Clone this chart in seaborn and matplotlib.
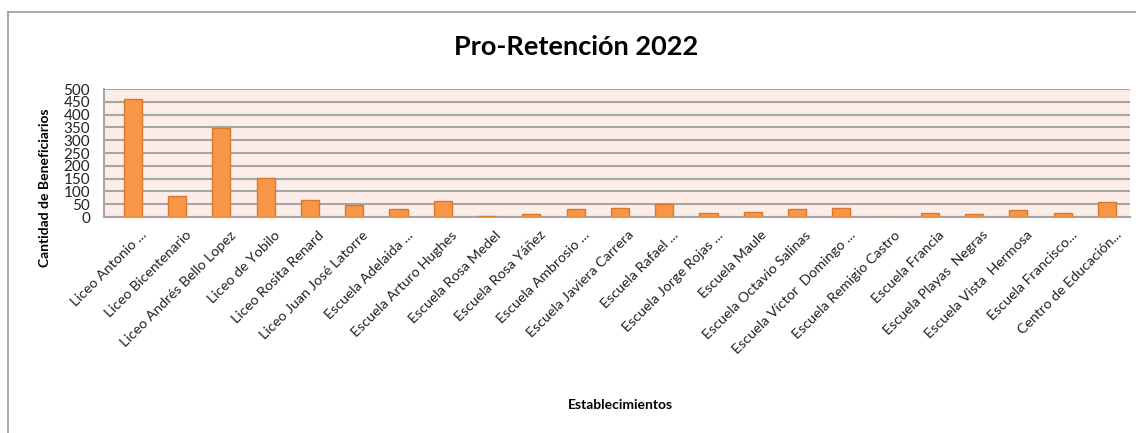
import matplotlib
matplotlib.use("Agg")
import matplotlib.pyplot as plt
import matplotlib.transforms as mtransforms
import seaborn as sns
import pandas as pd
from matplotlib.lines import Line2D

categories = [
    "Liceo Antonio ...", "Liceo Bicentenario", "Liceo Andrés Bello Lopez", "Liceo de Yobilo",
    "Liceo Rosita Renard", "Liceo Juan José Latorre", "Escuela Adelaida ...", "Escuela Arturo Hughes",
    "Escuela Rosa Medel", "Escuela Rosa Yáñez", "Escuela Ambrosio ...", "Escuela Javiera Carrera",
    "Escuela Rafael ...", "Escuela Jorge Rojas ...", "Escuela Maule", "Escuela Octavio Salinas",
    "Escuela Víctor  Domingo ...", "Escuela Remigio Castro", "Escuela Francia", "Escuela Playas  Negras",
    "Escuela Vista  Hermosa", "Escuela Francisco...", "Centro de Educación...",
]
values = [461, 83, 346, 153, 68, 46, 31, 62, 5, 10, 31, 36, 52, 16, 21, 31, 36, 0, 16, 10, 26, 16, 57]
yticks = list(range(0, 501, 50))

title = "Pro-Retención 2022"
ylabel = "Cantidad de Beneficiarios"
xlabel = "Establecimientos"

df = pd.DataFrame({"cat": categories, "val": values})

sns.set_theme(style="white")
plt.rcParams["font.family"] = ["Lato", "DejaVu Sans"]

fig = plt.figure(figsize=(11.36, 4.33), dpi=100)
ax = fig.add_axes([104 / 1136, 1 - 217 / 433, (1130 - 104) / 1136, (217 - 89) / 433])

sns.barplot(data=df, x="cat", y="val", color="#F79646", saturation=1, width=0.41,
            edgecolor="#D9782F", linewidth=1, ax=ax, zorder=3)

ax.set_facecolor("#FCEDE8")
ax.set_ylim(0, 500)
ax.set_xlim(-0.65, 22.52)
ax.set_yticks(yticks)
ax.set_yticklabels([str(t) for t in yticks], fontsize=11, color="#222222")
ax.yaxis.grid(True, color="#A6A6A6", linewidth=1.5, zorder=0)
ax.set_axisbelow(True)
ax.tick_params(axis="y", length=0, pad=10)
ax.tick_params(axis="x", length=0, pad=2)
ax.set_xticks(range(len(categories)))
ax.set_xticklabels(categories, rotation=45, ha="right", rotation_mode="anchor",
                   fontsize=10.3, color="#222222")
offset = mtransforms.ScaledTranslation(8 / 100, -9 / 100, fig.dpi_scale_trans)
for lbl in ax.get_xticklabels():
    lbl.set_transform(lbl.get_transform() + offset)
for s in ["top", "right"]:
    ax.spines[s].set_visible(False)
for s in ["left", "bottom"]:
    ax.spines[s].set_color("#A6A6A6")
    ax.spines[s].set_linewidth(1.5)

ax.set_xlabel("")
ax.set_ylabel("")
fig.text(45 / 1136, 1 - 188 / 433, ylabel, rotation=90, ha="center", va="center",
         fontsize=10, fontweight="bold", color="black")
fig.text(620 / 1136, 1 - 405 / 433, xlabel, ha="center", va="center",
         fontsize=10, fontweight="bold", color="black")
fig.text(576 / 1136, 1 - 47 / 433, title, ha="center", va="center",
         fontsize=19.5, fontweight="bold", color="black")

# sheet border decoration
fig.add_artist(Line2D([8 / 1136, 1], [1 - 12 / 433, 1 - 12 / 433], color="#9A9A9A", lw=1.2,
                      transform=fig.transFigure))
fig.add_artist(Line2D([8 / 1136, 8 / 1136], [0, 1 - 12 / 433], color="#9A9A9A", lw=1.2,
                      transform=fig.transFigure))

fig.savefig("out.png", dpi=100, facecolor="white")
